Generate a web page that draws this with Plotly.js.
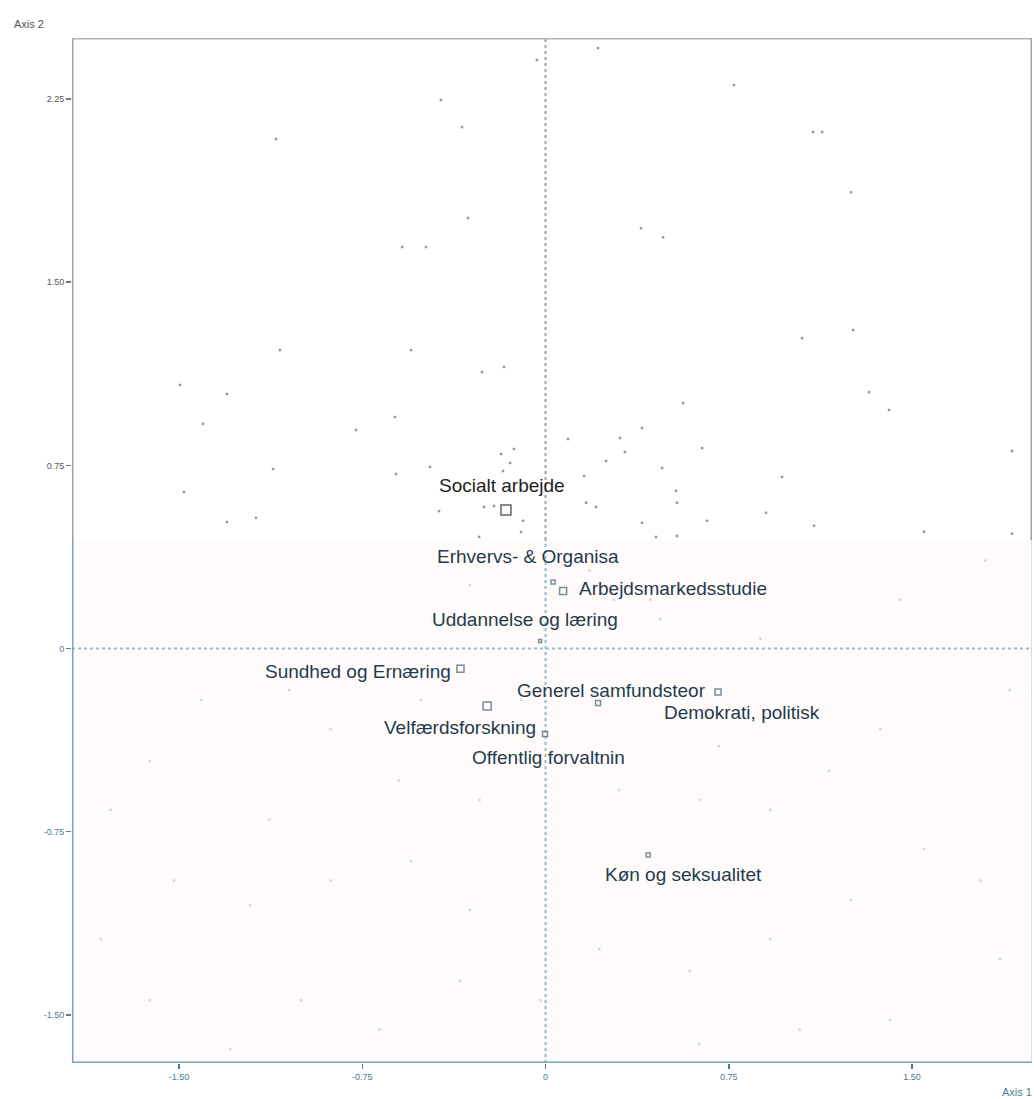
<!DOCTYPE html>
<html>
<head>
<meta charset="utf-8">
<script src="https://cdn.plot.ly/plotly-3.0.1.min.js"></script>
<style>html,body{margin:0;padding:0;background:#fff;}#chart{width:1034px;height:1099px;}</style>
</head>
<body>
<div id="chart"></div>
<script>
// Category points (modalities)
const categories = ["Socialt arbejde","Erhvervs- & Organisa","Arbejdsmarkedsstudie","Uddannelse og læring","Sundhed og Ernæring","Generel samfundsteor","Velfærdsforskning","Offentlig forvaltnin","Demokrati, politisk","Køn og seksualitet"];
const catX = [-0.162, 0.031, 0.072, -0.022, -0.348, 0.215, -0.239, -0.002, 0.706, 0.420];
const catY = [0.567, 0.273, 0.236, 0.031, -0.083, -0.223, -0.235, -0.350, -0.178, -0.845];

// Individual points (upper part, printed grey)
const indUpperX = [-0.035,-0.428,-0.342,-1.103,-0.317,-0.587,-0.489,0.215,0.771,1.095,1.132,1.250,0.391,0.481,-1.087,-0.550,-0.260,-0.170,-1.496,-1.304,-1.402,-0.616,-0.776,-0.182,-0.129,-0.145,-0.174,-1.115,-0.612,-0.473,-1.480,-1.304,-1.185,-0.436,-0.252,-0.211,-0.092,-0.100,-0.272,1.259,1.050,1.324,1.406,0.563,0.395,0.305,0.092,0.325,0.641,0.248,0.477,0.158,0.968,1.909,0.534,0.166,0.207,0.538,0.902,0.395,0.661,1.099,1.549,1.909,0.452,0.538];
const indUpperY = [2.410,2.246,2.135,2.086,1.763,1.644,1.644,2.459,2.307,2.115,2.115,1.868,1.721,1.684,1.222,1.222,1.132,1.153,1.079,1.042,0.920,0.948,0.895,0.797,0.817,0.760,0.727,0.735,0.715,0.744,0.641,0.518,0.535,0.563,0.580,0.584,0.523,0.477,0.457,1.304,1.271,1.050,0.977,1.005,0.903,0.862,0.858,0.805,0.821,0.768,0.739,0.707,0.703,0.809,0.646,0.597,0.580,0.597,0.556,0.515,0.523,0.503,0.478,0.470,0.457,0.461];

// Individual points (lower part, faint)
const indLowerX = [0.18,-0.31,0.28,0.47,0.88,1.45,1.80,1.90,1.37,1.16,0.92,0.63,0.30,-0.27,-0.60,-0.88,-1.05,-1.41,-1.62,-1.78,-1.52,-1.21,-0.88,-0.55,-0.31,-0.02,0.22,0.59,0.92,1.25,1.55,1.78,1.86,1.41,1.04,0.63,-0.35,-0.68,-1.00,-1.29,-1.62,-1.82,-1.13,0.71,-0.10,-0.51,0.43];
const indLowerY = [0.32,0.26,0.20,0.12,0.04,0.20,0.36,-0.17,-0.33,-0.50,-0.66,-0.62,-0.58,-0.62,-0.54,-0.33,-0.17,-0.21,-0.46,-0.66,-0.95,-1.05,-0.95,-0.87,-1.07,-1.44,-1.23,-1.32,-1.19,-1.03,-0.82,-0.95,-1.27,-1.52,-1.56,-1.62,-1.36,-1.56,-1.44,-1.64,-1.44,-1.19,-0.70,-0.40,-0.21,-0.21,0.20];

// Tick values and labels
const tickVals = [-1.5, -0.75, 0, 0.75, 1.5];
const xTickText = ["-1.50", "-0.75", "0", "0.75", "1.50"];
const yTickVals = [-1.5, -0.75, 0, 0.75, 1.5, 2.25];
const yTickText = ["-1.50", "-0.75", "0", "0.75", "1.50", "2.25"];

// styling (not data)
const markerSizes = [10, 4, 7, 3, 7, 5, 8, 5, 6, 4];
const labelShift = [[-4,25],[-25,25],[110,2],[-15,21],[-103,-3],[13,13],[-27,-22],[3,-23],[24,-20],[35,-20]];
const X_RANGE = [-1.938, 1.991];
const Y_RANGE = [-1.697, 2.50];
const SPLIT = 0.445;
const GREY = '#a0a0a0';
const BLUE = '#7aa6bd';
const upperText = '#1e1e1e';
const lowerText = '#1f3b4d';

const blueTick = c => '<span style="color:#4d7b93">' + c + '</span>';
const greyTick = c => '<span style="color:#555">' + c + '</span>';

const traces = [
  {x: indLowerX, y: indLowerY, mode: 'markers', type: 'scatter', hoverinfo: 'skip',
   marker: {size: 2.5, color: '#c4dbe7', symbol: 'square'}},
  {x: indUpperX, y: indUpperY, mode: 'markers', type: 'scatter', hoverinfo: 'skip',
   marker: {size: 2.5, color: '#9a9a9a', symbol: 'square'}},
  {x: catX, y: catY, mode: 'markers', type: 'scatter', text: categories, hoverinfo: 'text',
   marker: {size: markerSizes, symbol: 'square-open',
     color: catY.map(v => v > SPLIT ? '#222' : '#3f6070'), line: {width: 1.5}}}
];

const annotations = categories.map((c, i) => ({
  x: catX[i], y: catY[i], xref: 'x', yref: 'y', text: c, showarrow: false,
  xanchor: 'center', yanchor: 'middle', xshift: labelShift[i][0], yshift: labelShift[i][1],
  font: {family: 'Liberation Sans, Arial, sans-serif', size: 19, color: catY[i] > SPLIT ? upperText : lowerText}
}));
annotations.push({xref: 'paper', yref: 'paper', x: -0.0625, y: 1.0137, xanchor: 'left', yanchor: 'middle',
  text: 'Axis 2', showarrow: false, font: {family: 'Liberation Sans, Arial', size: 11, color: '#555'}});
annotations.push({xref: 'paper', yref: 'paper', x: 0.967, y: -0.028, xanchor: 'left', yanchor: 'middle',
  text: 'Axis 1', showarrow: false, font: {family: 'Liberation Sans, Arial', size: 11, color: '#4d7b93'}});

const shapes = [
  // faint tint of lower part
  {type: 'rect', xref: 'x', yref: 'y', x0: X_RANGE[0], x1: X_RANGE[1], y0: Y_RANGE[0], y1: SPLIT,
   fillcolor: '#fefbfa', line: {width: 0}, layer: 'below'},
  // dotted zero lines
  {type: 'line', xref: 'x', yref: 'y', x0: 0, x1: 0, y0: SPLIT, y1: Y_RANGE[1], line: {color: '#a0a0a0', width: 2, dash: 'dot'}, layer: 'below'},
  {type: 'line', xref: 'x', yref: 'y', x0: 0, x1: 0, y0: Y_RANGE[0], y1: SPLIT, line: {color: '#94bcd0', width: 2, dash: 'dot'}, layer: 'below'},
  {type: 'line', xref: 'x', yref: 'y', x0: X_RANGE[0], x1: X_RANGE[1], y0: 0, y1: 0, line: {color: '#94bcd0', width: 2, dash: 'dot'}, layer: 'below'},
  // frame
  {type: 'line', xref: 'x', yref: 'y', x0: X_RANGE[0], x1: X_RANGE[0], y0: SPLIT, y1: Y_RANGE[1], line: {color: GREY, width: 3}},
  {type: 'line', xref: 'x', yref: 'y', x0: X_RANGE[0], x1: X_RANGE[0], y0: Y_RANGE[0], y1: SPLIT, line: {color: BLUE, width: 3}},
  {type: 'line', xref: 'x', yref: 'y', x0: X_RANGE[0], x1: X_RANGE[1], y0: Y_RANGE[1], y1: Y_RANGE[1], line: {color: '#b0b0b0', width: 3}},
  {type: 'line', xref: 'x', yref: 'y', x0: X_RANGE[1], x1: X_RANGE[1], y0: SPLIT, y1: Y_RANGE[1], line: {color: GREY, width: 3}},
  {type: 'line', xref: 'x', yref: 'y', x0: X_RANGE[1], x1: X_RANGE[1], y0: Y_RANGE[0], y1: SPLIT, line: {color: '#cfe0ea', width: 2}},
  {type: 'line', xref: 'x', yref: 'y', x0: X_RANGE[0], x1: X_RANGE[1], y0: Y_RANGE[0], y1: Y_RANGE[0], line: {color: BLUE, width: 3}}
];

const layout = {
  width: 1034, height: 1099,
  margin: {l: 72, r: 2, t: 38, b: 36, pad: 0},
  paper_bgcolor: '#ffffff', plot_bgcolor: '#ffffff',
  showlegend: false,
  xaxis: {range: X_RANGE, tickvals: tickVals, ticktext: xTickText.map(blueTick),
    showgrid: false, zeroline: false, showline: false, ticks: 'outside', ticklen: 5, tickcolor: '#4d7b93', tickwidth: 1.5,
    tickfont: {family: 'Liberation Sans, Arial', size: 9, color: '#4d7b93'}, fixedrange: true},
  yaxis: {range: Y_RANGE, tickvals: yTickVals,
    ticktext: yTickText.map((t, i) => yTickVals[i] > SPLIT ? greyTick(t) : blueTick(t)),
    showgrid: false, zeroline: false, showline: false, ticks: 'outside', ticklen: 5, tickcolor: '#777', tickwidth: 1.5,
    tickfont: {family: 'Liberation Sans, Arial', size: 9, color: '#555'}, fixedrange: true},
  shapes: shapes,
  annotations: annotations
};

Plotly.newPlot('chart', traces, layout, {displayModeBar: false, staticPlot: true});
</script>
</body>
</html>
